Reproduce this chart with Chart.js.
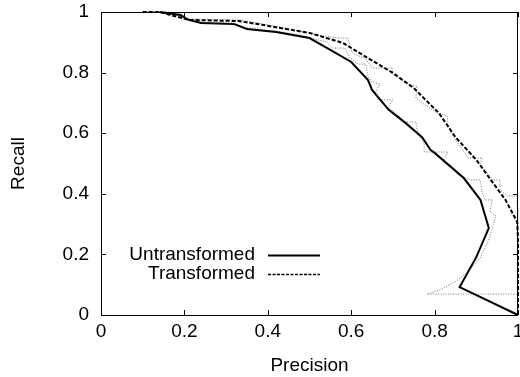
<!DOCTYPE html>
<html>
<head>
<meta charset="utf-8">
<script src="https://cdn.jsdelivr.net/npm/chart.js@4.4.1/dist/chart.umd.min.js"></script>
<style>
  html, body { margin: 0; padding: 0; background: #fff; }
  #wrap { width: 520px; height: 377px; }
</style>
</head>
<body>
<div id="wrap"><canvas id="grafico"></canvas></div>
<script>
// Tick values shared by both axes
const tickValues = [0, 0.2, 0.4, 0.6, 0.8, 1];
// Smoothed curve, untransformed
const untransPrecision = [0.14, 0.19, 0.21, 0.24, 0.32, 0.35, 0.42, 0.50, 0.55, 0.60, 0.64, 0.65, 0.67, 0.69, 0.73, 0.77, 0.79, 0.80, 0.87, 0.91, 0.93, 0.90, 0.86, 1.00];
const untransRecall    = [1.00, 0.99, 0.974, 0.964, 0.96, 0.944, 0.934, 0.914, 0.875, 0.835, 0.776, 0.743, 0.71, 0.677, 0.634, 0.587, 0.545, 0.535, 0.452, 0.38, 0.287, 0.191, 0.092, 0.0];
// Smoothed curve, transformed
const transPrecision = [0.10, 0.14, 0.21, 0.33, 0.39, 0.43, 0.50, 0.58, 0.64, 0.70, 0.75, 0.81, 0.85, 0.90, 0.94, 0.97, 0.998, 1.0, 1.0];
const transRecall    = [1.00, 1.00, 0.974, 0.97, 0.957, 0.947, 0.931, 0.898, 0.848, 0.799, 0.749, 0.667, 0.587, 0.512, 0.436, 0.38, 0.307, 0.248, 0.0];
// Raw step curve (gray dotted) around the untransformed one
const rawUntransPrecision = [0.101, 0.158, 0.194, 0.206, 0.237, 0.317, 0.345, 0.376, 0.386, 0.422, 0.477, 0.520, 0.542, 0.554, 0.585, 0.597, 0.616, 0.635, 0.640, 0.650, 0.669, 0.659, 0.664, 0.700, 0.688, 0.705, 0.729, 0.755, 0.760, 0.775, 0.775, 0.832, 0.820, 0.842, 0.856, 0.885, 0.909, 0.914, 0.921, 0.938, 0.933, 0.947, 0.930, 0.909, 0.880, 0.849, 0.813, 0.782, 1.0];
const rawUntransRecall    = [1.0, 1.0, 0.993, 0.977, 0.967, 0.964, 0.947, 0.947, 0.941, 0.937, 0.924, 0.908, 0.901, 0.881, 0.881, 0.848, 0.828, 0.828, 0.789, 0.769, 0.762, 0.736, 0.710, 0.710, 0.683, 0.670, 0.637, 0.637, 0.597, 0.564, 0.538, 0.538, 0.505, 0.485, 0.462, 0.446, 0.446, 0.406, 0.380, 0.380, 0.340, 0.327, 0.248, 0.188, 0.142, 0.109, 0.083, 0.069, 0.069];
// Raw step curve (gray dotted) around the transformed one
const rawTransPrecision = [0.101, 0.158, 0.213, 0.333, 0.429, 0.477, 0.530, 0.573, 0.592, 0.597, 0.602, 0.612, 0.633, 0.650, 0.700, 0.698, 0.729, 0.746, 0.758, 0.755, 0.777, 0.806, 0.830, 0.832, 0.844, 0.861, 0.880, 0.914, 0.909, 0.940, 0.957, 0.957, 0.974, 0.998, 0.998, 1.0, 1.0];
const rawTransRecall    = [1.0, 1.0, 0.977, 0.974, 0.950, 0.937, 0.921, 0.914, 0.914, 0.891, 0.868, 0.858, 0.848, 0.815, 0.815, 0.795, 0.769, 0.756, 0.756, 0.716, 0.693, 0.667, 0.657, 0.627, 0.591, 0.558, 0.518, 0.518, 0.495, 0.446, 0.446, 0.413, 0.393, 0.393, 0.363, 0.347, 0.0];
// Legend labels
const seriesNames = ['Untransformed', 'Transformed'];

const fontFamily = '"Liberation Sans", Arial, sans-serif';
const fontSize = 19;

// Turn two arrays into {x, y} points
function toPoints(xs, ys) {
    return xs.map((x, i) => ({ x: x, y: ys[i] }));
}

// Frame, inward ticks on all sides, and the gnuplot-like key
const marcoPlugin = {
    id: 'marco',
    afterDraw(chart) {
        const { ctx, chartArea: a, scales } = chart;
        const tl = 5;
        ctx.save();
        ctx.strokeStyle = '#000';
        ctx.lineWidth = 1;
        ctx.setLineDash([]);
        ctx.strokeRect(a.left + 0.5, a.top + 0.5, a.right - a.left - 1, a.bottom - a.top);
        ctx.beginPath();
        tickValues.forEach(v => {
            const px = Math.round(scales.x.getPixelForValue(v)) + 0.5;
            ctx.moveTo(px, a.bottom); ctx.lineTo(px, a.bottom - tl);
            ctx.moveTo(px, a.top); ctx.lineTo(px, a.top + tl);
            const py = Math.round(scales.y.getPixelForValue(v)) + 0.5;
            ctx.moveTo(a.left, py); ctx.lineTo(a.left + tl, py);
            ctx.moveTo(a.right, py); ctx.lineTo(a.right - tl, py);
        });
        ctx.stroke();

        // Key: text right aligned, line sample to its right
        const textX = a.left + 154;
        const lineX0 = a.left + 167;
        const lineX1 = a.left + 219;
        const rowY = [a.bottom - 60, a.bottom - 41];
        ctx.font = fontSize + 'px ' + fontFamily;
        ctx.fillStyle = '#000';
        ctx.textAlign = 'right';
        ctx.textBaseline = 'middle';
        seriesNames.forEach((name, i) => {
            ctx.fillText(name, textX, rowY[i]);
            ctx.beginPath();
            ctx.lineWidth = i === 0 ? 2 : 1.5;
            ctx.setLineDash(i === 0 ? [] : [3, 1.5]);
            ctx.moveTo(lineX0, rowY[i] + 0.5);
            ctx.lineTo(lineX1, rowY[i] + 0.5);
            ctx.stroke();
        });
        ctx.restore();
    }
};

const ctx = document.getElementById('grafico').getContext('2d');
new Chart(ctx, {
    type: 'scatter',
    data: {
        datasets: [
            {
                label: seriesNames[0],
                data: toPoints(untransPrecision, untransRecall),
                showLine: true,
                borderColor: '#000',
                borderWidth: 2,
                pointRadius: 0,
                clip: false
            },
            {
                label: seriesNames[1],
                data: toPoints(transPrecision, transRecall),
                showLine: true,
                borderColor: '#000',
                borderWidth: 2,
                borderDash: [4, 2],
                pointRadius: 0,
                clip: false
            },
            {
                label: 'raw untransformed',
                data: toPoints(rawUntransPrecision, rawUntransRecall),
                showLine: true,
                borderColor: '#777',
                borderWidth: 1,
                borderDash: [1, 1.5],
                pointRadius: 0,
                clip: false
            },
            {
                label: 'raw transformed',
                data: toPoints(rawTransPrecision, rawTransRecall),
                showLine: true,
                borderColor: '#777',
                borderWidth: 1,
                borderDash: [1, 1.5],
                pointRadius: 0,
                clip: false
            }
        ]
    },
    options: {
        responsive: true,
        maintainAspectRatio: false,
        animation: false,
        layout: { padding: { top: 12, right: 2, left: 0, bottom: 0 } },
        plugins: {
            legend: { display: false },
            tooltip: { enabled: false }
        },
        scales: {
            x: {
                type: 'linear',
                min: 0,
                max: 1,
                afterBuildTicks: scale => { scale.ticks = tickValues.map(v => ({ value: v })); },
                afterFit: scale => { scale.height = 62; scale.paddingLeft = 0; scale.paddingRight = 0; },
                grid: { display: false, drawTicks: false },
                border: { display: false },
                ticks: {
                    padding: 5,
                    maxRotation: 0,
                    autoSkip: false,
                    color: '#000',
                    callback: v => String(v),
                    font: { family: fontFamily, size: fontSize }
                },
                title: {
                    display: true,
                    text: 'Precision',
                    color: '#000',
                    padding: { top: 0, bottom: 0 },
                    font: { family: fontFamily, size: fontSize }
                }
            },
            y: {
                type: 'linear',
                min: 0,
                max: 1,
                afterBuildTicks: scale => { scale.ticks = tickValues.map(v => ({ value: v })); },
                afterFit: scale => { scale.width = 101; scale.paddingTop = 0; scale.paddingBottom = 0; },
                grid: { display: false, drawTicks: false },
                border: { display: false },
                ticks: {
                    padding: 12,
                    autoSkip: false,
                    color: '#000',
                    callback: v => String(v),
                    font: { family: fontFamily, size: fontSize }
                },
                title: {
                    display: true,
                    text: 'Recall',
                    color: '#000',
                    padding: { top: 7, bottom: 0 },
                    font: { family: fontFamily, size: fontSize }
                }
            }
        }
    },
    plugins: [marcoPlugin]
});
</script>
</body>
</html>
